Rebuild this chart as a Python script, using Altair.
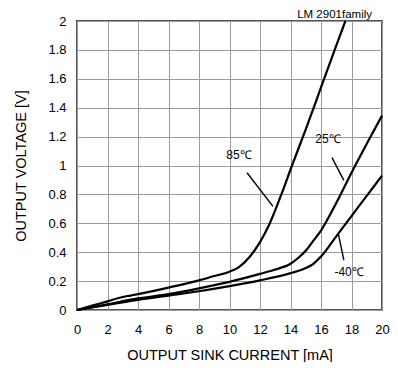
import altair as alt
import pandas as pd

# ---- data ----
x_85 = [0, 1, 2, 3, 3.5, 4, 6, 8, 9, 10, 10.6, 11.3, 12, 12.6, 13.4, 14.1, 15, 16, 17, 17.6]
v_85 = [0, 0.03, 0.06, 0.09, 0.10, 0.11, 0.155, 0.205, 0.235, 0.265, 0.295, 0.365, 0.47, 0.59, 0.80, 1.0, 1.25, 1.54, 1.83, 2.0]

x_25 = [0, 2, 4, 6, 8, 10, 12, 13, 14, 14.5, 15, 15.5, 16, 17, 18, 19, 20]
v_25 = [0, 0.04, 0.08, 0.11, 0.15, 0.195, 0.25, 0.28, 0.32, 0.36, 0.41, 0.48, 0.55, 0.74, 0.95, 1.15, 1.345]

x_m40 = [0, 2, 4, 6, 8, 10, 12, 14, 15, 15.5, 16, 17, 18, 19, 20]
v_m40 = [0, 0.035, 0.07, 0.10, 0.13, 0.165, 0.205, 0.255, 0.29, 0.32, 0.37, 0.51, 0.65, 0.79, 0.93]

label_text = ["85℃", "25℃", "-40℃"]
label_x = [10.62, 16.46, 17.84]
label_y = [1.07, 1.18, 0.26]

lead_x1 = [11.15, 16.72, 17.5]
lead_y1 = [0.95, 1.055, 0.345]
lead_x2 = [12.85, 17.5, 17.13]
lead_y2 = [0.717, 0.897, 0.531]

x_ticks = [0, 2, 4, 6, 8, 10, 12, 14, 16, 18, 20]
y_ticks = [0, 0.2, 0.4, 0.6, 0.8, 1, 1.2, 1.4, 1.6, 1.8, 2]

FONT = "Liberation Sans"

rows = []
for name, xs_, vs_ in [("85", x_85, v_85), ("25", x_25, v_25), ("-40", x_m40, v_m40)]:
    for a, b in zip(xs_, vs_):
        rows.append({"series": name, "x": a, "v": b})
df = pd.DataFrame(rows)

lab = pd.DataFrame({"t": label_text, "x": label_x, "y": label_y})
lead = pd.DataFrame({"x": lead_x1, "y": lead_y1, "x2": lead_x2, "y2": lead_y2})

xs = alt.Scale(domain=[0, 20], nice=False)
ys = alt.Scale(domain=[0, 2], nice=False)

common = dict(grid=True, tickSize=0, labelFontSize=13, titleFontSize=14.5,
              domain=False, labelFont=FONT, titleFont=FONT, labelColor="#000",
              titleColor="#000", titleFontWeight="normal", gridColor="#9a9a9a",
              gridWidth=1, labelFlush=False, labelOverlap=False,
              labelExpr="toString(datum.value)")

xaxis = alt.Axis(values=x_ticks, title="OUTPUT SINK CURRENT [mA]", labelPadding=13,
                 titlePadding=12, **common)
yaxis = alt.Axis(values=y_ticks, title="OUTPUT VOLTAGE [V]", labelPadding=11,
                 titlePadding=19, **common)

lines = alt.Chart(df).mark_line(color="black", strokeWidth=2.2, interpolate="monotone").encode(
    x=alt.X("x:Q", scale=xs, axis=xaxis),
    y=alt.Y("v:Q", scale=ys, axis=yaxis),
    detail="series:N",
)

leaders = alt.Chart(lead).mark_rule(color="black", strokeWidth=1.4).encode(
    x=alt.X("x:Q", scale=xs, axis=xaxis), y=alt.Y("y:Q", scale=ys, axis=yaxis),
    x2="x2:Q", y2="y2:Q"
)

texts = alt.Chart(lab).mark_text(font=FONT, fontSize=12, color="black").encode(
    x=alt.X("x:Q", scale=xs, axis=xaxis), y=alt.Y("y:Q", scale=ys, axis=yaxis), text="t:N"
)

family = alt.Chart(pd.DataFrame({"t": ["LM 2901family"]})).mark_text(
    font=FONT, fontSize=11.5, color="black", align="right", baseline="alphabetic"
).encode(x=alt.value(295), y=alt.value(-3), text="t:N")

chart = alt.layer(lines, leaders, texts, family).properties(
    width=305, height=289, autosize="none",
    padding={"left": 69, "top": 13, "right": 8, "bottom": 52},
).configure_view(stroke="#555", strokeWidth=2).configure_axis(gridOpacity=1)

chart.save("out.html", embed_options={"renderer": "svg", "actions": False})
